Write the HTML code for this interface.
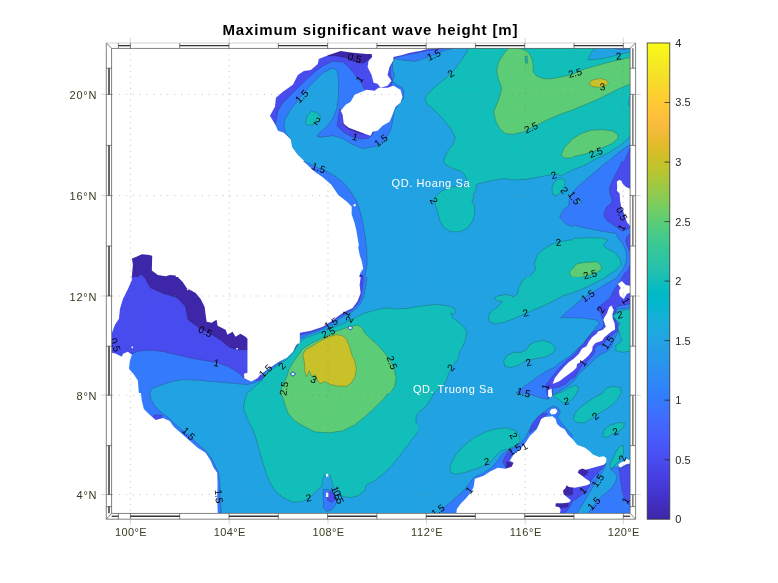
<!DOCTYPE html>
<html><head><meta charset="utf-8"><title>Maximum significant wave height</title>
<style>
html,body{margin:0;padding:0;background:#fff;}
body{width:778px;height:583px;overflow:hidden;position:relative;font-family:"Liberation Sans",sans-serif;}
svg{position:absolute;left:0;top:0;}
text{font-family:"Liberation Sans",sans-serif;}
.tk{font-size:11px;fill:#3a3a22;}
.cb{font-size:11px;fill:#262626;}
.cl{font-size:10px;fill:#000;}
.pl{font-size:11px;fill:#fff;}
</style></head><body>
<svg width="778" height="583" viewBox="0 0 778 583">
<rect width="778" height="583" fill="#fff"/>
<defs><clipPath id="mc"><rect x="112" y="48" width="518" height="465"/></clipPath><clipPath id="t0"><rect x="108" y="45" width="155" height="116"/></clipPath><clipPath id="t1"><rect x="263" y="45" width="155" height="116"/></clipPath><clipPath id="t2"><rect x="418" y="45" width="155" height="116"/></clipPath><clipPath id="t3"><rect x="573" y="45" width="155" height="116"/></clipPath><clipPath id="t4"><rect x="108" y="161" width="155" height="116"/></clipPath><clipPath id="t5"><rect x="263" y="161" width="155" height="116"/></clipPath><clipPath id="t6"><rect x="418" y="161" width="155" height="116"/></clipPath><clipPath id="t7"><rect x="573" y="161" width="155" height="116"/></clipPath><clipPath id="t8"><rect x="108" y="277" width="155" height="116"/></clipPath><clipPath id="t9"><rect x="263" y="277" width="155" height="116"/></clipPath><clipPath id="t10"><rect x="418" y="277" width="155" height="116"/></clipPath><clipPath id="t11"><rect x="573" y="277" width="155" height="116"/></clipPath><clipPath id="t12"><rect x="108" y="393" width="155" height="122"/></clipPath><clipPath id="t13"><rect x="263" y="393" width="155" height="122"/></clipPath><clipPath id="t14"><rect x="418" y="393" width="155" height="122"/></clipPath><clipPath id="t15"><rect x="573" y="393" width="155" height="122"/></clipPath></defs>
<g clip-path="url(#mc)">
<rect x="112" y="48" width="518" height="465" fill="#21a3e3"/>
<g clip-path="url(#t0)"><g transform="translate(108,45) scale(0.199229)">
<rect x="-5" y="-5" width="790" height="640" fill="#21a3e3"/>
<polygon points="-20,-20 800,-20 800,600 -20,600" fill="#fff"/>
</g></g>
<g clip-path="url(#t1)"><g transform="translate(263,45) scale(0.199229)">
<rect x="-5" y="-5" width="790" height="640" fill="#21a3e3"/>
<polygon points="139,473 113,441 106,409 110,376 135,330 185,265 240,200 300,140 350,115 372,128 380,180 378,260 370,320 350,370 320,410 278,445 272,460 290,463 350,455 400,470 450,500 500,520 560,510 610,480 640,430 650,390 660,330 680,300 705,270 708,240 700,215 665,195 650,185 660,150 650,120 650,85 660,69 705,76 763,82 800,72 800,-20 -20,-20 -20,473" fill="#347afd" stroke="#222" stroke-opacity="0.55" stroke-width="2.2" stroke-linejoin="round"/>
<polygon points="62,405 75,330 100,290 150,240 200,190 260,135 300,105 350,82 400,85 430,110 470,160 495,190 505,215 520,235 560,240 600,225 640,215 650,180 640,150 640,110 655,75 666,62 731,48 783,38 800,36 800,-20 -20,-20 -20,405" fill="#484cef" stroke="#222" stroke-opacity="0.55" stroke-width="2.2" stroke-linejoin="round"/>
<polygon points="385,320 378,360 372,405 400,435 440,458 490,472 530,468 550,450 560,430 500,400 420,350" fill="#484cef" stroke="#222" stroke-opacity="0.55" stroke-width="2.2" stroke-linejoin="round"/>
<polygon points="325,55 370,55 420,65 470,87 500,92 520,82 535,68 550,55 550,-20 325,-20" fill="#3e26a8" stroke="#222" stroke-opacity="0.55" stroke-width="2.2" stroke-linejoin="round"/>
<polygon points="400,395 430,422 470,438 510,448 500,420 420,370" fill="#3e26a8" stroke="#222" stroke-opacity="0.55" stroke-width="2.2" stroke-linejoin="round"/>
<polygon points="213,395 222,355 243,333 268,338 290,362 282,385 250,400 225,402" fill="#12beb9" stroke="#222" stroke-opacity="0.55" stroke-width="2.2" stroke-linejoin="round"/>
<polygon points="215,600 210,585 174,551 146,512 139,473 105,440 75,430 62,400 35,355 60,310 65,265 100,235 150,200 175,150 205,130 240,125 275,95 280,70 330,50 390,30 440,38 520,45 545,45 548,60 530,80 525,110 545,150 555,190 575,195 590,215 625,205 645,180 625,150 635,110 655,75 654,60 699,50 731,40 783,31 800,28 800,-20 -20,-20 -20,600" fill="#fff"/>
<polygon points="460,250 520,225 560,230 580,215 625,215 655,205 690,225 700,260 690,290 665,310 650,350 635,385 600,405 575,430 550,435 540,455 510,445 470,430 430,415 405,395 400,350 390,330 415,300 440,285" fill="#fff"/>
</g></g>
<g clip-path="url(#t2)"><g transform="translate(418,45) scale(0.199229)">
<rect x="-5" y="-5" width="790" height="640" fill="#21a3e3"/>
<polygon points="-20,84 18,72 50,60 95,44 134,27 173,18 180,-20 -20,-20" fill="#347afd" stroke="#222" stroke-opacity="0.55" stroke-width="2.2" stroke-linejoin="round"/>
<polygon points="-20,40 5,38 50,28 95,22 127,18 130,-20 -20,-20" fill="#484cef" stroke="#222" stroke-opacity="0.55" stroke-width="2.2" stroke-linejoin="round"/>
<polygon points="255,15 230,60 185,120 130,175 80,215 45,250 35,270 45,295 80,325 125,370 165,420 188,465 175,500 145,540 128,582 125,600 800,600 800,-20 255,-20" fill="#12beb9" stroke="#222" stroke-opacity="0.55" stroke-width="2.2" stroke-linejoin="round"/>
<polygon points="455,15 430,45 405,85 395,130 405,175 420,215 410,260 395,300 380,335 390,380 410,420 440,445 480,448 530,435 590,405 650,375 720,345 778,325 800,320 800,140 778,147 720,160 670,170 630,170 595,155 578,135 578,105 572,70 560,45 545,30 520,20 500,15 500,-20 455,-20" fill="#5ccc76" stroke="#222" stroke-opacity="0.55" stroke-width="2.2" stroke-linejoin="round"/>
<polygon points="719,551 735,515 774,473 800,458 800,568 774,567 735,567" fill="#5ccc76" stroke="#222" stroke-opacity="0.55" stroke-width="2.2" stroke-linejoin="round"/>
<polygon points="537,58 548,55 550,90 540,92" fill="#12beb9" stroke="#222" stroke-opacity="0.55" stroke-width="2.2" stroke-linejoin="round"/>
<polygon points="-20,-20 100,-20 100,17 88,18 43,21 5,31 -20,34" fill="#fff"/>
</g></g>
<g clip-path="url(#t3)"><g transform="translate(573,45) scale(0.199229)">
<rect x="-5" y="-5" width="790" height="640" fill="#21a3e3"/>
<polygon points="-20,-20 800,-20 800,600 -20,600" fill="#12beb9" stroke="#222" stroke-opacity="0.55" stroke-width="2.2" stroke-linejoin="round"/>
<polygon points="-20,150 0,145 60,120 130,100 200,82 260,68 300,60 300,192 240,215 180,245 120,275 60,300 0,325 -20,330" fill="#5ccc76" stroke="#222" stroke-opacity="0.55" stroke-width="2.2" stroke-linejoin="round"/>
<polygon points="0,470 40,445 90,428 150,425 200,432 225,450 225,470 195,495 150,515 100,535 50,550 0,560 -20,565 -20,480" fill="#5ccc76" stroke="#222" stroke-opacity="0.55" stroke-width="2.2" stroke-linejoin="round"/>
<polygon points="80,190 100,175 135,168 165,175 178,190 165,205 130,212 95,208" fill="#c8c129" stroke="#222" stroke-opacity="0.55" stroke-width="2.2" stroke-linejoin="round"/>
<polygon points="110,15 90,40 75,75 120,72 180,62 240,45 300,33 300,-20 110,-20" fill="#21a3e3" stroke="#222" stroke-opacity="0.55" stroke-width="2.2" stroke-linejoin="round"/>
<polygon points="300,255 290,255 280,275 278,295 285,310 300,315" fill="#21a3e3" stroke="#222" stroke-opacity="0.55" stroke-width="2.2" stroke-linejoin="round"/>
<polygon points="300,445 287,454 274,473 235,505 183,538 132,564 95,582 70,600 300,600" fill="#21a3e3" stroke="#222" stroke-opacity="0.55" stroke-width="2.2" stroke-linejoin="round"/>
<polygon points="200,-20 205,17 245,24 300,18 300,-20" fill="#347afd" stroke="#222" stroke-opacity="0.55" stroke-width="2.2" stroke-linejoin="round"/>
<polygon points="300,490 287,499 235,535 183,578 165,600 300,600" fill="#347afd" stroke="#222" stroke-opacity="0.55" stroke-width="2.2" stroke-linejoin="round"/>
<polygon points="300,505 287,515 272,550 258,582 252,600 300,600" fill="#484cef" stroke="#222" stroke-opacity="0.55" stroke-width="2.2" stroke-linejoin="round"/>
</g></g>
<g clip-path="url(#t4)"><g transform="translate(108,161) scale(0.199229)">
<rect x="-5" y="-5" width="790" height="640" fill="#21a3e3"/>
<polygon points="-20,-20 800,-20 800,600 -20,600" fill="#3e26a8" stroke="#222" stroke-opacity="0.55" stroke-width="2.2" stroke-linejoin="round"/>
<polygon points="110,610 122,600 140,585 167,569 187,589 197,610" fill="#484cef" stroke="#222" stroke-opacity="0.55" stroke-width="2.2" stroke-linejoin="round"/>
<polygon points="-20,-20 800,-20 800,600 340,600 340,575 310,572 290,578 250,572 220,550 222,475 200,470 170,468 140,482 120,490 125,520 118,600 -20,600" fill="#fff"/>
</g></g>
<g clip-path="url(#t5)"><g transform="translate(263,161) scale(0.199229)">
<rect x="-5" y="-5" width="790" height="640" fill="#21a3e3"/>
<polygon points="150,-20 205,0 220,7 271,33 323,53 365,78 405,110 438,150 471,203 490,260 503,319 513,380 520,435 523,513 512,582 508,610 -20,610 -20,-20" fill="#347afd" stroke="#222" stroke-opacity="0.55" stroke-width="2.2" stroke-linejoin="round"/>
<polygon points="478,600 480,568 500,575 508,600" fill="#3e26a8" stroke="#222" stroke-opacity="0.55" stroke-width="2.2" stroke-linejoin="round"/>
<polygon points="180,-20 200,0 213,10 258,53 300,82 342,118 378,171 420,203 445,228 445,268 458,305 468,345 474,380 481,422 478,435 486,474 495,500 503,539 490,560 484,577 486,610 -20,610 -20,-20" fill="#fff"/>
<polygon points="452,222 460,215 468,222 460,230" fill="#fff"/>
</g></g>
<g clip-path="url(#t6)"><g transform="translate(418,161) scale(0.199229)">
<rect x="-5" y="-5" width="790" height="640" fill="#21a3e3"/>
<polygon points="800,150 778,160 767,168 760,185 756,225 728,247 711,281 739,314 762,326 800,335" fill="#347afd" stroke="#222" stroke-opacity="0.55" stroke-width="2.2" stroke-linejoin="round"/>
<polygon points="128,-20 128,0 140,20 180,40 215,50 235,70 245,95 250,125 215,128 170,130 120,150 80,185 85,215 100,260 110,300 130,335 165,355 210,355 250,335 275,300 285,260 285,225 270,205 280,185 278,165 292,148 290,125 300,115 360,100 430,88 480,95 540,92 600,82 660,70 700,68 720,75 740,62 778,45 800,40 800,-20" fill="#12beb9" stroke="#222" stroke-opacity="0.55" stroke-width="2.2" stroke-linejoin="round"/>
<polygon points="672,135 680,110 700,92 725,88 740,100 735,130 715,160 690,175 675,165" fill="#12beb9" stroke="#222" stroke-opacity="0.55" stroke-width="2.2" stroke-linejoin="round"/>
<polygon points="555,600 560,582 590,545 585,510 600,470 640,435 690,410 740,400 778,395 800,393 800,600" fill="#12beb9" stroke="#222" stroke-opacity="0.55" stroke-width="2.2" stroke-linejoin="round"/>
<polygon points="759,557 779,537 800,520 800,590 770,582" fill="#5ccc76" stroke="#222" stroke-opacity="0.55" stroke-width="2.2" stroke-linejoin="round"/>
</g></g>
<g clip-path="url(#t7)"><g transform="translate(573,161) scale(0.199229)">
<rect x="-5" y="-5" width="790" height="640" fill="#21a3e3"/>
<polygon points="175,-20 175,0 135,34 96,67 57,101 17,135 -11,168 -30,200 -22,225 -50,247 -67,281 -39,314 -16,315 40,332 96,343 152,354 214,363 225,385 248,413 264,447 270,481 264,514 250,545 230,570 222,582 215,600 300,600 300,-20" fill="#347afd" stroke="#222" stroke-opacity="0.55" stroke-width="2.2" stroke-linejoin="round"/>
<polygon points="248,-20 248,0 231,34 214,67 197,101 183,135 186,168 197,196 191,213 169,230 158,253 155,275 169,297 197,318 220,332 248,352 264,346 287,335 300,330 300,-20" fill="#484cef" stroke="#222" stroke-opacity="0.55" stroke-width="2.2" stroke-linejoin="round"/>
<polygon points="300,360 287,363 270,380 264,402 273,425 281,447 287,458 300,460" fill="#484cef" stroke="#222" stroke-opacity="0.55" stroke-width="2.2" stroke-linejoin="round"/>
<polygon points="300,515 287,520 276,548 259,565 245,585 240,600 300,600" fill="#484cef" stroke="#222" stroke-opacity="0.55" stroke-width="2.2" stroke-linejoin="round"/>
<polygon points="100,-20 96,0 57,22 12,39 -33,53 -33,-20" fill="#12beb9" stroke="#222" stroke-opacity="0.55" stroke-width="2.2" stroke-linejoin="round"/>
<polygon points="-100,411 -44,397 12,388 79,385 147,387 175,397 152,422 169,439 208,458 236,492 242,520 214,548 180,571 147,593 113,616 96,627 -100,627" fill="#12beb9" stroke="#222" stroke-opacity="0.55" stroke-width="2.2" stroke-linejoin="round"/>
<polygon points="-19,557 1,537 17,517 57,509 124,506 138,523 144,543 124,557 96,568 62,579 23,585 -8,582" fill="#5ccc76" stroke="#222" stroke-opacity="0.55" stroke-width="2.2" stroke-linejoin="round"/>
<polygon points="15,200 35,192 45,208 25,215" fill="#21a3e3" stroke="#222" stroke-opacity="0.55" stroke-width="2.2" stroke-linejoin="round"/>
<polygon points="220,104 231,95 242,98 248,112 264,129 287,140 300,140 300,326 287,326 270,306 259,269 242,230 236,196 234,163 220,149 222,129" fill="#fff"/>
</g></g>
<g clip-path="url(#t8)"><g transform="translate(108,277) scale(0.199229)">
<rect x="-5" y="-5" width="790" height="640" fill="#21a3e3"/>
<polygon points="-20,-20 800,-20 800,600 -20,600" fill="#347afd" stroke="#222" stroke-opacity="0.55" stroke-width="2.2" stroke-linejoin="round"/>
<polygon points="-20,-20 800,-20 800,520 690,515 670,495 640,470 600,448 550,430 490,420 420,408 350,392 280,375 220,368 160,370 120,385 100,388 -20,400" fill="#484cef" stroke="#222" stroke-opacity="0.55" stroke-width="2.2" stroke-linejoin="round"/>
<polygon points="160,-20 167,-14 187,7 201,35 215,55 277,83 345,103 387,145 401,214 456,255 511,283 566,317 607,351 649,365 697,365 800,370 800,-20" fill="#3e26a8" stroke="#222" stroke-opacity="0.55" stroke-width="2.2" stroke-linejoin="round"/>
<polygon points="205,600 210,582 220,560 260,545 320,525 380,515 450,518 520,525 580,530 640,535 700,540 740,530 778,510 800,500 800,600" fill="#21a3e3" stroke="#222" stroke-opacity="0.55" stroke-width="2.2" stroke-linejoin="round"/>
<polygon points="695,600 700,582 730,555 760,530 778,515 800,505 800,600" fill="#12beb9" stroke="#222" stroke-opacity="0.55" stroke-width="2.2" stroke-linejoin="round"/>
<polygon points="-20,-20 118,-20 118,0 120,15 100,60 75,110 60,160 55,210 35,240 20,280 20,380 40,385 70,400 75,385 100,375 120,390 110,420 105,460 130,490 150,520 155,582 155,600 -20,600" fill="#fff"/>
<polygon points="350,-20 350,0 375,25 395,55 440,80 465,110 485,150 490,190 495,225 520,230 545,215 550,245 590,265 600,290 625,275 640,300 665,285 690,300 700,310 700,480 682,485 685,510 720,525 750,508 765,490 800,485 800,-20" fill="#fff"/>
<polygon points="118,349 126,349 126,357 118,357" fill="#fff"/>
<polygon points="396,58 404,58 404,66 396,66" fill="#fff"/>
<polygon points="644,356 652,356 652,364 644,364" fill="#fff"/>
</g></g>
<g clip-path="url(#t9)"><g transform="translate(263,277) scale(0.199229)">
<rect x="-5" y="-5" width="790" height="640" fill="#21a3e3"/>
<polygon points="522,-20 522,0 515,50 505,100 485,140 455,170 420,190 385,210 350,235 310,258 260,278 215,295 185,312 160,360 120,400 70,440 30,465 0,488 -20,500 -20,-20" fill="#347afd" stroke="#222" stroke-opacity="0.55" stroke-width="2.2" stroke-linejoin="round"/>
<polygon points="505,-20 505,0 498,60 492,100 478,130 450,162 415,182 380,203 340,232 300,256 240,277 185,292 170,345 120,400 70,432 30,456 0,478 -20,490 -20,-20" fill="#484cef" stroke="#222" stroke-opacity="0.55" stroke-width="2.2" stroke-linejoin="round"/>
<polygon points="800,145 778,148 720,158 660,160 620,155 570,165 520,178 480,195 440,215 400,235 350,255 300,275 250,292 200,312 175,340 155,375 125,410 90,435 50,460 10,490 -20,510 -20,600 800,600" fill="#12beb9" stroke="#222" stroke-opacity="0.55" stroke-width="2.2" stroke-linejoin="round"/>
<polygon points="80,600 85,582 100,540 120,500 130,465 150,430 175,395 200,360 240,335 290,310 340,285 390,265 430,250 470,242 495,250 510,280 540,310 575,340 610,380 640,420 660,465 668,510 660,550 640,582 635,600" fill="#5ccc76" stroke="#222" stroke-opacity="0.55" stroke-width="2.2" stroke-linejoin="round"/>
<polygon points="200,390 215,365 250,345 290,320 330,300 370,290 400,295 420,315 435,350 445,390 460,420 468,460 462,500 445,530 420,548 380,548 340,540 310,525 285,535 270,510 262,490 245,500 232,470 218,500 210,470 208,430" fill="#c8c129" stroke="#222" stroke-opacity="0.55" stroke-width="2.2" stroke-linejoin="round"/>
<polygon points="425,255 438,243 452,255 438,268" fill="#347afd" stroke="#222" stroke-opacity="0.55" stroke-width="2.2" stroke-linejoin="round"/>
<polygon points="135,487 150,474 165,487 150,500" fill="#347afd" stroke="#222" stroke-opacity="0.55" stroke-width="2.2" stroke-linejoin="round"/>
<polygon points="490,-20 490,0 485,40 490,80 475,120 450,155 410,175 380,195 340,225 300,250 240,270 185,280 185,320 165,345 150,375 120,405 80,425 50,445 20,465 0,480 -20,490 -20,-20" fill="#fff"/>
<polygon points="432,250 444,250 444,260 432,260" fill="#fff"/>
<polygon points="144,482 156,482 156,492 144,492" fill="#fff"/>
<polygon points="172,322 184,322 184,334 172,334" fill="#fff"/>
</g></g>
<g clip-path="url(#t10)"><g transform="translate(418,277) scale(0.199229)">
<rect x="-5" y="-5" width="790" height="640" fill="#21a3e3"/>
<polygon points="999.9,-35.1 999.9,0.0 987.3,10.0 947.7,32.6 907.5,57.2 867.8,82.3 827.7,107.4 792.6,135.0 757.9,164.6 727.8,192.2 714.8,204.8 727.8,203.8 817.7,205.8 892.4,214.8 912.5,234.9 896.0,245.9 885.4,263.5 862.8,291.6 840.2,319.7 823.7,341.8 790.0,369.9 761.9,398.0 733.8,415.1 711.2,429.2 682.6,454.3 647.5,470.3 608.3,495.9 569.2,524.0 529.5,552.1 493.4,580.2 529.5,585.8 569.2,591.3 602.8,602.3 630.9,610.9 653.0,613.9 667.1,602.3 675.6,591.3 698.2,580.2 726.3,563.2 754.4,546.1 776.5,527.0 793.1,507.0 806.6,486.9 834.7,461.8 862.8,437.2 890.9,409.1 919.0,387.0 947.2,375.4 969.2,353.4 980.8,325.3 991.8,297.1 1008.9,269.0 1014.4,240.9 998.9,210.8 993.8,185.7 998.9,160.6 1028.0,160.1 1078.2,150.1 1078.2,-35.1" fill="#347afd" stroke="#222" stroke-opacity="0.55" stroke-width="2.2" stroke-linejoin="round"/>
<polygon points="1027.5,-35.1 1027.5,0.0 1007.4,30.1 987.3,59.7 962.7,104.9 927.6,135.0 902.5,150.1 900.0,164.6 912.5,174.7 927.6,209.8 932.6,234.9 925.1,259.5 897.5,269.5 883.4,273.6 863.3,291.1 845.8,313.7 833.2,336.3 813.1,348.8 795.6,376.5 773.0,399.0 747.9,416.6 722.8,441.7 700.2,466.8 677.6,494.4 664.6,512.5 642.0,540.6 647.5,585.8 653.0,607.8 667.1,599.8 675.6,580.2 675.6,557.7 709.2,552.1 742.9,535.1 765.5,512.5 788.0,501.4 808.1,466.8 828.2,439.2 850.8,421.6 868.3,404.1 885.9,381.5 888.4,358.9 901.0,343.8 933.6,333.8 946.1,316.2 963.7,301.2 981.3,286.1 1001.4,271.0 998.9,235.9 988.8,210.8 986.3,190.7 993.8,165.6 993.8,150.6 1007.4,145.1 1037.5,140.0 1062.6,135.0 1078.2,133.0 1078.2,-35.1" fill="#484cef" stroke="#222" stroke-opacity="0.55" stroke-width="2.2" stroke-linejoin="round"/>
<polygon points="-20,148 0,148 50,142 100,138 150,145 180,155 190,175 175,188 165,180 170,200 200,225 235,255 245,280 238,316 224,350 207,378 204,406 184,434 168,457 154,484 142,519 128,541 100,563 78,586 70,600 -20,600" fill="#12beb9" stroke="#222" stroke-opacity="0.55" stroke-width="2.2" stroke-linejoin="round"/>
<polygon points="545,-20 545,0 520,25 505,55 500,85 480,100 462,92 445,88 400,95 385,105 395,120 425,122 400,150 365,175 352,200 360,225 385,235 430,228 480,210 530,188 580,165 630,145 680,120 728,94 768,82 800,72 800,-20" fill="#12beb9" stroke="#222" stroke-opacity="0.55" stroke-width="2.2" stroke-linejoin="round"/>
<polygon points="430,420 445,395 480,378 520,378 545,365 560,340 590,325 630,318 665,330 690,355 680,380 640,400 590,410 540,420 500,445 460,455 435,445" fill="#12beb9" stroke="#222" stroke-opacity="0.55" stroke-width="2.2" stroke-linejoin="round"/>
<polygon points="674.6,592.8 702.7,584.3 730.3,573.2 758.4,556.1 786.5,544.1 803.6,548.1 803.6,567.7 792.1,589.8 775.5,612.4 752.9,629.4 730.3,631.9 713.8,620.9 696.7,606.8" fill="#12beb9" stroke="#222" stroke-opacity="0.55" stroke-width="2.2" stroke-linejoin="round"/>
<polygon points="675.6,536.1 687.1,507.0 710.2,476.8 732.8,451.7 757.9,426.6 783.0,409.1 806.6,387.0 823.7,358.9 845.8,347.3 857.3,325.3 873.9,302.7 897.5,283.6 903.5,273.6 927.6,264.5 942.6,250.0 937.6,234.9 930.1,214.8 937.6,199.8 947.7,184.7 952.7,169.7 960.2,150.1 972.8,142.5 977.8,159.6 982.3,164.6 975.3,189.7 977.8,209.8 987.3,234.9 989.3,263.5 969.2,274.6 952.7,288.6 935.6,302.7 924.6,319.7 890.9,330.8 876.9,347.3 873.9,369.9 857.3,392.5 840.2,409.1 818.2,426.1 798.1,437.2 795.6,454.3 778.5,471.3 756.4,487.9 733.8,504.9 711.2,521.5 688.7,532.6" fill="#fff"/>
<polygon points="653.0,568.7 670.1,560.2 673.1,596.8 664.6,605.3 653.0,599.8" fill="#fff"/>
</g></g>
<g clip-path="url(#t11)"><g transform="translate(573,277) scale(0.199229)">
<rect x="-5" y="-5" width="790" height="640" fill="#21a3e3"/>
<polygon points="221.9,-35.1 221.9,0.0 209.3,10.0 169.7,32.6 129.5,57.2 89.8,82.3 49.7,107.4 14.6,135.0 -20.1,164.6 -50.2,192.2 -63.2,204.8 -50.2,203.8 39.7,205.8 114.4,214.8 134.5,234.9 118.0,245.9 107.4,263.5 84.8,291.6 62.2,319.7 45.7,341.8 12.0,369.9 -16.1,398.0 -44.2,415.1 -66.8,429.2 -95.4,454.3 -130.5,470.3 -169.7,495.9 -208.8,524.0 -248.5,552.1 -284.6,580.2 -248.5,585.8 -208.8,591.3 -175.2,602.3 -147.1,610.9 -125.0,613.9 -110.9,602.3 -102.4,591.3 -79.8,580.2 -51.7,563.2 -23.6,546.1 -1.5,527.0 15.1,507.0 28.6,486.9 56.7,461.8 84.8,437.2 112.9,409.1 141.0,387.0 169.2,375.4 191.2,353.4 202.8,325.3 213.8,297.1 230.9,269.0 236.4,240.9 220.9,210.8 215.8,185.7 220.9,160.6 250.0,160.1 300.2,150.1 300.2,-35.1" fill="#347afd" stroke="#222" stroke-opacity="0.55" stroke-width="2.2" stroke-linejoin="round"/>
<polygon points="249.5,-35.1 249.5,0.0 229.4,30.1 209.3,59.7 184.7,104.9 149.6,135.0 124.5,150.1 122.0,164.6 134.5,174.7 149.6,209.8 154.6,234.9 147.1,259.5 119.5,269.5 105.4,273.6 85.3,291.1 67.8,313.7 55.2,336.3 35.1,348.8 17.6,376.5 -5.0,399.0 -30.1,416.6 -55.2,441.7 -77.8,466.8 -100.4,494.4 -113.4,512.5 -136.0,540.6 -130.5,585.8 -125.0,607.8 -110.9,599.8 -102.4,580.2 -102.4,557.7 -68.8,552.1 -35.1,535.1 -12.5,512.5 10.0,501.4 30.1,466.8 50.2,439.2 72.8,421.6 90.3,404.1 107.9,381.5 110.4,358.9 123.0,343.8 155.6,333.8 168.1,316.2 185.7,301.2 203.3,286.1 223.4,271.0 220.9,235.9 210.8,210.8 208.3,190.7 215.8,165.6 215.8,150.6 229.4,145.1 259.5,140.0 284.6,135.0 300.2,133.0 300.2,-35.1" fill="#484cef" stroke="#222" stroke-opacity="0.55" stroke-width="2.2" stroke-linejoin="round"/>
<polygon points="-50,92 -10,82 30,67 70,50 110,30 150,10 170,0 170,-20 -50,-20" fill="#12beb9" stroke="#222" stroke-opacity="0.55" stroke-width="2.2" stroke-linejoin="round"/>
<polygon points="200,195 225,175 260,165 300,160 300,370 250,378 215,370 215,345 245,320 235,290 225,255 235,235 215,215" fill="#12beb9" stroke="#222" stroke-opacity="0.55" stroke-width="2.2" stroke-linejoin="round"/>
<polygon points="150,600 150,582 165,560 200,548 235,555 245,582 245,600" fill="#12beb9" stroke="#222" stroke-opacity="0.55" stroke-width="2.2" stroke-linejoin="round"/>
<polygon points="-103.4,592.8 -75.3,584.3 -47.7,573.2 -19.6,556.1 8.5,544.1 25.6,548.1 25.6,567.7 14.1,589.8 -2.5,612.4 -25.1,629.4 -47.7,631.9 -64.2,620.9 -81.3,606.8" fill="#12beb9" stroke="#222" stroke-opacity="0.55" stroke-width="2.2" stroke-linejoin="round"/>
<polygon points="225,35 245,20 265,40 290,45 300,45 300,75 270,85 255,110 235,95 230,70 240,55" fill="#fff"/>
<polygon points="-102.4,536.1 -90.9,507.0 -67.8,476.8 -45.2,451.7 -20.1,426.6 5.0,409.1 28.6,387.0 45.7,358.9 67.8,347.3 79.3,325.3 95.9,302.7 119.5,283.6 125.5,273.6 149.6,264.5 164.6,250.0 159.6,234.9 152.1,214.8 159.6,199.8 169.7,184.7 174.7,169.7 182.2,150.1 194.8,142.5 199.8,159.6 204.3,164.6 197.3,189.7 199.8,209.8 209.3,234.9 211.3,263.5 191.2,274.6 174.7,288.6 157.6,302.7 146.6,319.7 112.9,330.8 98.9,347.3 95.9,369.9 79.3,392.5 62.2,409.1 40.2,426.1 20.1,437.2 17.6,454.3 0.5,471.3 -21.6,487.9 -44.2,504.9 -66.8,521.5 -89.3,532.6" fill="#fff"/>
<polygon points="-125.0,568.7 -107.9,560.2 -104.9,596.8 -113.4,605.3 -125.0,599.8" fill="#fff"/>
</g></g>
<g clip-path="url(#t12)"><g transform="translate(108,393) scale(0.199229)">
<rect x="-5" y="-5" width="790" height="640" fill="#21a3e3"/>
<polygon points="210,-20 210,0 215,30 235,65 265,95 300,120 330,150 370,185 410,215 450,255 490,290 520,330 540,370 556,400 562,460 563,520 568,582 572,625 -20,625 -20,-20" fill="#347afd" stroke="#222" stroke-opacity="0.55" stroke-width="2.2" stroke-linejoin="round"/>
<polygon points="225,125 245,140 270,130 270,110 230,110" fill="#484cef" stroke="#222" stroke-opacity="0.55" stroke-width="2.2" stroke-linejoin="round"/>
<polygon points="700,-20 700,0 685,40 680,80 700,130 730,190 750,250 765,310 778,350 800,400 800,-20" fill="#12beb9" stroke="#222" stroke-opacity="0.55" stroke-width="2.2" stroke-linejoin="round"/>
<polygon points="165,-20 165,0 170,40 180,80 210,110 240,135 275,125 310,140 330,170 370,205 410,240 450,275 490,300 515,340 530,375 548,400 550,460 548,520 550,582 552,625 -20,625 -20,-20" fill="#fff"/>
</g></g>
<g clip-path="url(#t13)"><g transform="translate(263,393) scale(0.199229)">
<rect x="-5" y="-5" width="790" height="640" fill="#21a3e3"/>
<polygon points="301,484 303,577 319,595 344,587 365,561 373,535 355,504 334,484" fill="#347afd" stroke="#222" stroke-opacity="0.55" stroke-width="2.2" stroke-linejoin="round"/>
<polygon points="320,500 345,495 360,510 362,535 345,550 325,540" fill="#484cef" stroke="#222" stroke-opacity="0.55" stroke-width="2.2" stroke-linejoin="round"/>
<polygon points="-20,340 0,350 15,400 35,450 60,490 100,525 150,548 200,545 240,520 270,490 295,470 300,430 310,410 335,410 345,440 350,470 375,490 400,520 440,525 480,515 510,490 520,460 560,440 610,400 650,360 690,310 720,270 750,230 778,195 800,170 800,-20 -20,-20" fill="#12beb9" stroke="#222" stroke-opacity="0.55" stroke-width="2.2" stroke-linejoin="round"/>
<polygon points="85,-20 90,0 105,40 125,100 160,140 210,170 260,195 330,200 400,190 460,160 510,120 560,75 600,35 630,0 635,-20" fill="#5ccc76" stroke="#222" stroke-opacity="0.55" stroke-width="2.2" stroke-linejoin="round"/>
<polygon points="800,95 778,100 768,120 768,145 778,160 800,165" fill="#21a3e3" stroke="#222" stroke-opacity="0.55" stroke-width="2.2" stroke-linejoin="round"/>
<polygon points="316,406 328,406 328,420 316,420" fill="#fff"/>
<polygon points="316,500 328,500 328,522 316,522" fill="#fff"/>
</g></g>
<g clip-path="url(#t14)"><g transform="translate(418,393) scale(0.199229)">
<rect x="-5" y="-5" width="790" height="640" fill="#21a3e3"/>
<polygon points="115,625 120,582 150,560 190,525 230,490 260,450 280,425 330,400 370,375 395,345 420,310 450,290 490,270 520,245 545,215 560,180 590,140 620,105 650,80 680,65 705,75 715,100 700,120 720,150 750,185 778,215 800,225 800,625" fill="#347afd" stroke="#222" stroke-opacity="0.55" stroke-width="2.2" stroke-linejoin="round"/>
<polygon points="999.9,-617.4 999.9,-582.2 987.3,-572.2 947.7,-549.6 907.5,-525.0 867.8,-499.9 827.7,-474.8 792.6,-447.2 757.9,-417.6 727.8,-390.0 714.8,-377.5 727.8,-378.5 817.7,-376.5 892.4,-367.4 912.5,-347.3 896.0,-336.3 885.4,-318.7 862.8,-290.6 840.2,-262.5 823.7,-240.4 790.0,-212.3 761.9,-184.2 733.8,-167.1 711.2,-153.1 682.6,-128.0 647.5,-111.9 608.3,-86.3 569.2,-58.2 529.5,-30.1 493.4,-2.0 529.5,3.5 569.2,9.0 602.8,20.1 630.9,28.6 653.0,31.6 667.1,20.1 675.6,9.0 698.2,-2.0 726.3,-19.1 754.4,-36.1 776.5,-55.2 793.1,-75.3 806.6,-95.4 834.7,-120.5 862.8,-145.1 890.9,-173.2 919.0,-195.3 947.2,-206.8 969.2,-228.9 980.8,-257.0 991.8,-285.1 1008.9,-313.2 1014.4,-341.3 998.9,-371.4 993.8,-396.5 998.9,-421.6 1028.0,-422.1 1078.2,-432.2 1078.2,-617.4" fill="#347afd" stroke="#222" stroke-opacity="0.55" stroke-width="2.2" stroke-linejoin="round"/>
<polygon points="425,345 445,305 470,285 462,330 478,345 485,365 470,385 445,385" fill="#484cef" stroke="#222" stroke-opacity="0.55" stroke-width="2.2" stroke-linejoin="round"/>
<polygon points="560,200 570,160 600,120 630,100 650,105 610,140 590,180" fill="#484cef" stroke="#222" stroke-opacity="0.55" stroke-width="2.2" stroke-linejoin="round"/>
<polygon points="730,455 800,455 800,528 776,544 767,562 752,586 728,612 720,625 680,625 680,545 740,540" fill="#484cef" stroke="#222" stroke-opacity="0.55" stroke-width="2.2" stroke-linejoin="round"/>
<polygon points="1027.5,-617.4 1027.5,-582.2 1007.4,-552.1 987.3,-522.5 962.7,-477.3 927.6,-447.2 902.5,-432.2 900.0,-417.6 912.5,-407.6 927.6,-372.4 932.6,-347.3 925.1,-322.7 897.5,-312.7 883.4,-308.7 863.3,-291.1 845.8,-268.5 833.2,-245.9 813.1,-233.4 795.6,-205.8 773.0,-183.2 747.9,-165.6 722.8,-140.5 700.2,-115.4 677.6,-87.8 664.6,-69.8 642.0,-41.7 647.5,3.5 653.0,25.6 667.1,17.6 675.6,-2.0 675.6,-24.6 709.2,-30.1 742.9,-47.2 765.5,-69.8 788.0,-80.8 808.1,-115.4 828.2,-143.1 850.8,-160.6 868.3,-178.2 885.9,-200.8 888.4,-223.4 901.0,-238.4 933.6,-248.5 946.1,-266.0 963.7,-281.1 981.3,-296.1 1001.4,-311.2 998.9,-346.3 988.8,-371.4 986.3,-391.5 993.8,-416.6 993.8,-431.7 1007.4,-437.2 1037.5,-442.2 1062.6,-447.2 1078.2,-449.2 1078.2,-617.4" fill="#484cef" stroke="#222" stroke-opacity="0.55" stroke-width="2.2" stroke-linejoin="round"/>
<polygon points="445,345 480,355 478,375 460,385 445,375" fill="#3e26a8" stroke="#222" stroke-opacity="0.55" stroke-width="2.2" stroke-linejoin="round"/>
<polygon points="720,460 794,470 791,502 758,514 725,510" fill="#3e26a8" stroke="#222" stroke-opacity="0.55" stroke-width="2.2" stroke-linejoin="round"/>
<polygon points="685,550 758,549 752,571 710,577 685,570" fill="#3e26a8" stroke="#222" stroke-opacity="0.55" stroke-width="2.2" stroke-linejoin="round"/>
<polygon points="-20,105 0,98 25,80 44,60 50,54 66,26 78,4 80,-20 -20,-20" fill="#12beb9" stroke="#222" stroke-opacity="0.55" stroke-width="2.2" stroke-linejoin="round"/>
<polygon points="160,385 165,355 190,310 230,265 280,225 340,195 400,178 450,175 490,190 510,215 512,245 490,265 455,280 420,290 395,310 370,340 330,365 280,385 230,400 190,408 165,400" fill="#12beb9" stroke="#222" stroke-opacity="0.55" stroke-width="2.2" stroke-linejoin="round"/>
<polygon points="674.6,10.5 702.7,2.0 730.3,-9.0 758.4,-26.1 786.5,-38.1 803.6,-34.1 803.6,-14.6 792.1,7.5 775.5,30.1 752.9,47.2 730.3,49.7 713.8,38.6 696.7,24.6" fill="#12beb9" stroke="#222" stroke-opacity="0.55" stroke-width="2.2" stroke-linejoin="round"/>
<polygon points="190,625 195,582 215,555 240,530 265,500 280,470 285,430 330,415 360,395 400,375 440,380 470,370 480,350 460,340 480,310 515,280 540,250 562,215 579,199 596,182 607,159 618,131 635,120 675,117 691,131 697,154 714,171 736,182 753,210 776,232 800,262 800,475 788,475 758,472 746,463 740,478 728,490 731,508 752,526 767,538 758,550 728,553 692,553 689,568 710,574 716,589 704,625" fill="#fff"/>
<polygon points="660,95 670,80 690,78 700,90 690,105 670,108" fill="#fff"/>
<polygon points="675.6,-46.2 687.1,-75.3 710.2,-105.4 732.8,-130.5 757.9,-155.6 783.0,-173.2 806.6,-195.3 823.7,-223.4 845.8,-234.9 857.3,-257.0 873.9,-279.6 897.5,-298.7 903.5,-308.7 927.6,-317.7 942.6,-332.3 937.6,-347.3 930.1,-367.4 937.6,-382.5 947.7,-397.5 952.7,-412.6 960.2,-432.2 972.8,-439.7 977.8,-422.6 982.3,-417.6 975.3,-392.5 977.8,-372.4 987.3,-347.3 989.3,-318.7 969.2,-307.7 952.7,-293.6 935.6,-279.6 924.6,-262.5 890.9,-251.5 876.9,-234.9 873.9,-212.3 857.3,-189.7 840.2,-173.2 818.2,-156.1 798.1,-145.1 795.6,-128.0 778.5,-110.9 756.4,-94.4 733.8,-77.3 711.2,-60.7 688.7,-49.7" fill="#fff"/>
<polygon points="653.0,-13.6 670.1,-22.1 673.1,14.6 664.6,23.1 653.0,17.6" fill="#fff"/>
</g></g>
<g clip-path="url(#t15)"><g transform="translate(573,393) scale(0.199229)">
<rect x="-5" y="-5" width="790" height="640" fill="#21a3e3"/>
<polygon points="-20,470 0,480 85,460 90,440 130,370 167,345 167,351 155,382 137,412 118,442 100,472 82,502 64,532 46,562 28,589 16,612 10,625 -20,625" fill="#347afd" stroke="#222" stroke-opacity="0.55" stroke-width="2.2" stroke-linejoin="round"/>
<polygon points="188,382 209,400 221,418 215,442 197,472 173,496 149,514 125,538 100,568 82,592 70,612 65,625 300,625 300,340 270,345 250,360 230,375 210,370" fill="#347afd" stroke="#222" stroke-opacity="0.55" stroke-width="2.2" stroke-linejoin="round"/>
<polygon points="221.9,-617.4 221.9,-582.2 209.3,-572.2 169.7,-549.6 129.5,-525.0 89.8,-499.9 49.7,-474.8 14.6,-447.2 -20.1,-417.6 -50.2,-390.0 -63.2,-377.5 -50.2,-378.5 39.7,-376.5 114.4,-367.4 134.5,-347.3 118.0,-336.3 107.4,-318.7 84.8,-290.6 62.2,-262.5 45.7,-240.4 12.0,-212.3 -16.1,-184.2 -44.2,-167.1 -66.8,-153.1 -95.4,-128.0 -130.5,-111.9 -169.7,-86.3 -208.8,-58.2 -248.5,-30.1 -284.6,-2.0 -248.5,3.5 -208.8,9.0 -175.2,20.1 -147.1,28.6 -125.0,31.6 -110.9,20.1 -102.4,9.0 -79.8,-2.0 -51.7,-19.1 -23.6,-36.1 -1.5,-55.2 15.1,-75.3 28.6,-95.4 56.7,-120.5 84.8,-145.1 112.9,-173.2 141.0,-195.3 169.2,-206.8 191.2,-228.9 202.8,-257.0 213.8,-285.1 230.9,-313.2 236.4,-341.3 220.9,-371.4 215.8,-396.5 220.9,-421.6 250.0,-422.1 300.2,-432.2 300.2,-617.4" fill="#347afd" stroke="#222" stroke-opacity="0.55" stroke-width="2.2" stroke-linejoin="round"/>
<polygon points="-26,600 -11,562 -2,544 16,532 40,514 64,496 82,472 88,454 88,442 100,424 118,406 143,382 161,360 158,348 120,345 -26,345" fill="#484cef" stroke="#222" stroke-opacity="0.55" stroke-width="2.2" stroke-linejoin="round"/>
<polygon points="230,375 236,418 242,460 248,502 260,532 275,556 287,565 300,568 300,355 270,362 245,372" fill="#484cef" stroke="#222" stroke-opacity="0.55" stroke-width="2.2" stroke-linejoin="round"/>
<polygon points="249.5,-617.4 249.5,-582.2 229.4,-552.1 209.3,-522.5 184.7,-477.3 149.6,-447.2 124.5,-432.2 122.0,-417.6 134.5,-407.6 149.6,-372.4 154.6,-347.3 147.1,-322.7 119.5,-312.7 105.4,-308.7 85.3,-291.1 67.8,-268.5 55.2,-245.9 35.1,-233.4 17.6,-205.8 -5.0,-183.2 -30.1,-165.6 -55.2,-140.5 -77.8,-115.4 -100.4,-87.8 -113.4,-69.8 -136.0,-41.7 -130.5,3.5 -125.0,25.6 -110.9,17.6 -102.4,-2.0 -102.4,-24.6 -68.8,-30.1 -35.1,-47.2 -12.5,-69.8 10.0,-80.8 30.1,-115.4 50.2,-143.1 72.8,-160.6 90.3,-178.2 107.9,-200.8 110.4,-223.4 123.0,-238.4 155.6,-248.5 168.1,-266.0 185.7,-281.1 203.3,-296.1 223.4,-311.2 220.9,-346.3 210.8,-371.4 208.3,-391.5 215.8,-416.6 215.8,-431.7 229.4,-437.2 259.5,-442.2 284.6,-447.2 300.2,-449.2 300.2,-617.4" fill="#484cef" stroke="#222" stroke-opacity="0.55" stroke-width="2.2" stroke-linejoin="round"/>
<polygon points="20,378 70,380 75,400 60,415 40,414 22,400" fill="#3e26a8" stroke="#222" stroke-opacity="0.55" stroke-width="2.2" stroke-linejoin="round"/>
<polygon points="0,130 10,100 40,70 80,40 120,15 150,0 155,-20 245,-20 240,0 225,30 195,60 160,85 125,105 90,130 55,150 20,148" fill="#12beb9" stroke="#222" stroke-opacity="0.55" stroke-width="2.2" stroke-linejoin="round"/>
<polygon points="150,205 160,180 190,160 230,148 258,150 255,170 235,190 200,205 170,222 152,220" fill="#12beb9" stroke="#222" stroke-opacity="0.55" stroke-width="2.2" stroke-linejoin="round"/>
<polygon points="185,369 191,345 206,315 221,285 239,267 251,261 254,291 251,315 233,339 209,363 194,382" fill="#12beb9" stroke="#222" stroke-opacity="0.55" stroke-width="2.2" stroke-linejoin="round"/>
<polygon points="-103.4,10.5 -75.3,2.0 -47.7,-9.0 -19.6,-26.1 8.5,-38.1 25.6,-34.1 25.6,-14.6 14.1,7.5 -2.5,30.1 -25.1,47.2 -47.7,49.7 -64.2,38.6 -81.3,24.6" fill="#12beb9" stroke="#222" stroke-opacity="0.55" stroke-width="2.2" stroke-linejoin="round"/>
<polygon points="-20,235 0,235 22,261 58,273 82,291 100,309 131,321 155,318 167,327 167,348 155,360 124,369 100,375 64,385 46,379 28,388 25,400 40,412 64,430 82,442 88,454 70,463 40,469 10,475 -20,472" fill="#fff"/>
<polygon points="227,360 236,351 257,342 269,330 281,336 300,336 300,351 269,357 251,366 236,375" fill="#fff"/>
<polygon points="-102.4,-46.2 -90.9,-75.3 -67.8,-105.4 -45.2,-130.5 -20.1,-155.6 5.0,-173.2 28.6,-195.3 45.7,-223.4 67.8,-234.9 79.3,-257.0 95.9,-279.6 119.5,-298.7 125.5,-308.7 149.6,-317.7 164.6,-332.3 159.6,-347.3 152.1,-367.4 159.6,-382.5 169.7,-397.5 174.7,-412.6 182.2,-432.2 194.8,-439.7 199.8,-422.6 204.3,-417.6 197.3,-392.5 199.8,-372.4 209.3,-347.3 211.3,-318.7 191.2,-307.7 174.7,-293.6 157.6,-279.6 146.6,-262.5 112.9,-251.5 98.9,-234.9 95.9,-212.3 79.3,-189.7 62.2,-173.2 40.2,-156.1 20.1,-145.1 17.6,-128.0 0.5,-110.9 -21.6,-94.4 -44.2,-77.3 -66.8,-60.7 -89.3,-49.7" fill="#fff"/>
<polygon points="-125.0,-13.6 -107.9,-22.1 -104.9,14.6 -113.4,23.1 -125.0,17.6" fill="#fff"/>
</g></g>
</g>
<g opacity="0.999"><text class="cl" transform="translate(354.6,58) rotate(15)" text-anchor="middle" dy="3.4">0.5</text>
<text class="cl" transform="translate(359.6,79.3) rotate(-55)" text-anchor="middle" dy="3.4">1</text>
<text class="cl" transform="translate(301.8,96.4) rotate(-45)" text-anchor="middle" dy="3.4">1.5</text>
<text class="cl" transform="translate(317.2,121.1) rotate(30)" text-anchor="middle" dy="3.4">2</text>
<text class="cl" transform="translate(355,137) rotate(15)" text-anchor="middle" dy="3.4">1</text>
<text class="cl" transform="translate(381,140.6) rotate(-35)" text-anchor="middle" dy="3.4">1.5</text>
<text class="cl" transform="translate(318.5,168) rotate(20)" text-anchor="middle" dy="3.4">1.5</text>
<text class="cl" transform="translate(433.9,55) rotate(-25)" text-anchor="middle" dy="3.4">1.5</text>
<text class="cl" transform="translate(450.9,73.5) rotate(-35)" text-anchor="middle" dy="3.4">2</text>
<text class="cl" transform="translate(531.1,127.7) rotate(-25)" text-anchor="middle" dy="3.4">2.5</text>
<text class="cl" transform="translate(575,73) rotate(-15)" text-anchor="middle" dy="3.4">2.5</text>
<text class="cl" transform="translate(618.8,56) rotate(-5)" text-anchor="middle" dy="3.4">2</text>
<text class="cl" transform="translate(602.5,86.8) rotate(-5)" text-anchor="middle" dy="3.4">3</text>
<text class="cl" transform="translate(595.9,152.6) rotate(-20)" text-anchor="middle" dy="3.4">2.5</text>
<text class="cl" transform="translate(433.9,200.8) rotate(60)" text-anchor="middle" dy="3.4">2</text>
<text class="cl" transform="translate(553.9,175.3) rotate(-15)" text-anchor="middle" dy="3.4">2</text>
<text class="cl" transform="translate(564.4,190.5) rotate(50)" text-anchor="middle" dy="3.4">2</text>
<text class="cl" transform="translate(574.2,197.9) rotate(55)" text-anchor="middle" dy="3.4">1.5</text>
<text class="cl" transform="translate(558.4,242.3) rotate(-5)" text-anchor="middle" dy="3.4">2</text>
<text class="cl" transform="translate(621.8,213.8) rotate(65)" text-anchor="middle" dy="3.4">0.5</text>
<text class="cl" transform="translate(621.8,227.7) rotate(-60)" text-anchor="middle" dy="3.4">1</text>
<text class="cl" transform="translate(590,274.5) rotate(-15)" text-anchor="middle" dy="3.4">2.5</text>
<text class="cl" transform="translate(205.2,331.6) rotate(25)" text-anchor="middle" dy="3.4">0.5</text>
<text class="cl" transform="translate(115.3,344.8) rotate(70)" text-anchor="middle" dy="3.4">0.5</text>
<text class="cl" transform="translate(216.4,363) rotate(10)" text-anchor="middle" dy="3.4">1</text>
<text class="cl" transform="translate(346.5,314) rotate(-60)" text-anchor="middle" dy="3.4">1</text>
<text class="cl" transform="translate(331,323.5) rotate(-30)" text-anchor="middle" dy="3.4">1.5</text>
<text class="cl" transform="translate(349.5,319.5) rotate(-60)" text-anchor="middle" dy="3.4">2</text>
<text class="cl" transform="translate(328.4,332.8) rotate(-25)" text-anchor="middle" dy="3.4">2.5</text>
<text class="cl" transform="translate(392,362.6) rotate(70)" text-anchor="middle" dy="3.4">2.5</text>
<text class="cl" transform="translate(313.8,379.5) rotate(25)" text-anchor="middle" dy="3.4">3</text>
<text class="cl" transform="translate(282,366) rotate(-50)" text-anchor="middle" dy="3.4">2</text>
<text class="cl" transform="translate(265.5,371) rotate(-45)" text-anchor="middle" dy="3.4">1.5</text>
<text class="cl" transform="translate(284,388.5) rotate(-80)" text-anchor="middle" dy="3.4">2.5</text>
<text class="cl" transform="translate(188.5,433.7) rotate(45)" text-anchor="middle" dy="3.4">1.5</text>
<text class="cl" transform="translate(218.7,496.3) rotate(85)" text-anchor="middle" dy="3.4">1.5</text>
<text class="cl" transform="translate(308.6,497.8) rotate(-10)" text-anchor="middle" dy="3.4">2</text>
<text class="cl" transform="translate(336.5,493) rotate(70)" text-anchor="middle" dy="3.4">1.5</text>
<text class="cl" transform="translate(338.5,497) rotate(70)" text-anchor="middle" dy="3.4">0.5</text>
<text class="cl" transform="translate(525.6,312.9) rotate(-15)" text-anchor="middle" dy="3.4">2</text>
<text class="cl" transform="translate(528.6,362.6) rotate(-15)" text-anchor="middle" dy="3.4">2</text>
<text class="cl" transform="translate(450.9,367.6) rotate(-50)" text-anchor="middle" dy="3.4">2</text>
<text class="cl" transform="translate(523.5,392.6) rotate(15)" text-anchor="middle" dy="3.4">1.5</text>
<text class="cl" transform="translate(545.5,387) rotate(-75)" text-anchor="middle" dy="3.4">1</text>
<text class="cl" transform="translate(566.3,401.2) rotate(-10)" text-anchor="middle" dy="3.4">2</text>
<text class="cl" transform="translate(595.5,416.2) rotate(-40)" text-anchor="middle" dy="3.4">2</text>
<text class="cl" transform="translate(615.5,431.6) rotate(-20)" text-anchor="middle" dy="3.4">2</text>
<text class="cl" transform="translate(587.9,295.9) rotate(-35)" text-anchor="middle" dy="3.4">1.5</text>
<text class="cl" transform="translate(600.9,309.9) rotate(-60)" text-anchor="middle" dy="3.4">2</text>
<text class="cl" transform="translate(619.8,314.8) rotate(-10)" text-anchor="middle" dy="3.4">2</text>
<text class="cl" transform="translate(625.8,300.9) rotate(60)" text-anchor="middle" dy="3.4">1</text>
<text class="cl" transform="translate(607.9,342.7) rotate(-55)" text-anchor="middle" dy="3.4">1.5</text>
<text class="cl" transform="translate(583,363) rotate(-50)" text-anchor="middle" dy="3.4">1</text>
<text class="cl" transform="translate(513.6,435.8) rotate(60)" text-anchor="middle" dy="3.4">2</text>
<text class="cl" transform="translate(486.7,461.7) rotate(-10)" text-anchor="middle" dy="3.4">2</text>
<text class="cl" transform="translate(514.7,449.5) rotate(-30)" text-anchor="middle" dy="3.4">1.5</text>
<text class="cl" transform="translate(524.5,446.3) rotate(-30)" text-anchor="middle" dy="3.4">1</text>
<text class="cl" transform="translate(469.4,490.2) rotate(-50)" text-anchor="middle" dy="3.4">1</text>
<text class="cl" transform="translate(438,510.5) rotate(-35)" text-anchor="middle" dy="3.4">1.5</text>
<text class="cl" transform="translate(622.4,458.3) rotate(-70)" text-anchor="middle" dy="3.4">2</text>
<text class="cl" transform="translate(597.9,480.6) rotate(-55)" text-anchor="middle" dy="3.4">1.5</text>
<text class="cl" transform="translate(583,490.6) rotate(-45)" text-anchor="middle" dy="3.4">1</text>
<text class="cl" transform="translate(593.9,503.6) rotate(-45)" text-anchor="middle" dy="3.4">1.5</text>
<text class="cl" transform="translate(625.8,500.6) rotate(-60)" text-anchor="middle" dy="3.4">1</text></g><line x1="130.4" y1="48" x2="130.4" y2="513" stroke="#7a7a72" stroke-opacity="0.5" stroke-width="0.8" stroke-dasharray="1.2 4.5"/>
<line x1="229.2" y1="48" x2="229.2" y2="513" stroke="#7a7a72" stroke-opacity="0.5" stroke-width="0.8" stroke-dasharray="1.2 4.5"/>
<line x1="328.0" y1="48" x2="328.0" y2="513" stroke="#7a7a72" stroke-opacity="0.5" stroke-width="0.8" stroke-dasharray="1.2 4.5"/>
<line x1="426.6" y1="48" x2="426.6" y2="513" stroke="#7a7a72" stroke-opacity="0.5" stroke-width="0.8" stroke-dasharray="1.2 4.5"/>
<line x1="525.2" y1="48" x2="525.2" y2="513" stroke="#7a7a72" stroke-opacity="0.5" stroke-width="0.8" stroke-dasharray="1.2 4.5"/>
<line x1="623.3" y1="48" x2="623.3" y2="513" stroke="#7a7a72" stroke-opacity="0.5" stroke-width="0.8" stroke-dasharray="1.2 4.5"/>
<line x1="112" y1="94.4" x2="630" y2="94.4" stroke="#7a7a72" stroke-opacity="0.5" stroke-width="0.8" stroke-dasharray="1.2 5.7"/>
<line x1="112" y1="195.6" x2="630" y2="195.6" stroke="#7a7a72" stroke-opacity="0.5" stroke-width="0.8" stroke-dasharray="1.2 5.7"/>
<line x1="112" y1="296.0" x2="630" y2="296.0" stroke="#7a7a72" stroke-opacity="0.5" stroke-width="0.8" stroke-dasharray="1.2 5.7"/>
<line x1="112" y1="395.2" x2="630" y2="395.2" stroke="#7a7a72" stroke-opacity="0.5" stroke-width="0.8" stroke-dasharray="1.2 5.7"/>
<line x1="112" y1="494.6" x2="630" y2="494.6" stroke="#7a7a72" stroke-opacity="0.5" stroke-width="0.8" stroke-dasharray="1.2 5.7"/>
<path d="M106.3,43.0H635.6V519.2H106.3Z M111.7,48.3V513.3H630.1V48.3Z" fill="#fff" fill-rule="evenodd" stroke="none"/>
<path d="M106.3,43.0V519.2H635.6V43.0" fill="none" stroke="#4d4d4d" stroke-width="0.7"/>
<line x1="106.3" y1="43.0" x2="635.6" y2="43.0" stroke="#cdcdcd" stroke-width="0.9"/>
<rect x="111.7" y="48.3" width="518.4" height="464.99999999999994" fill="none" stroke="#4d4d4d" stroke-width="0.7"/>
<line x1="106.3" y1="43.0" x2="111.7" y2="48.3" stroke="#4d4d4d" stroke-width="0.7"/>
<line x1="635.6" y1="43.0" x2="630.1" y2="48.3" stroke="#4d4d4d" stroke-width="0.7"/>
<line x1="106.3" y1="519.2" x2="111.7" y2="513.3" stroke="#4d4d4d" stroke-width="0.7"/>
<line x1="635.6" y1="519.2" x2="630.1" y2="513.3" stroke="#4d4d4d" stroke-width="0.7"/>
<line x1="118.4" y1="43.0" x2="118.4" y2="48.3" stroke="#4d4d4d" stroke-width="0.7"/>
<line x1="118.4" y1="519.2" x2="118.4" y2="513.3" stroke="#4d4d4d" stroke-width="0.7"/>
<line x1="130.4" y1="43.0" x2="130.4" y2="48.3" stroke="#4d4d4d" stroke-width="0.7"/>
<line x1="130.4" y1="519.2" x2="130.4" y2="513.3" stroke="#4d4d4d" stroke-width="0.7"/>
<line x1="179.7" y1="43.0" x2="179.7" y2="48.3" stroke="#4d4d4d" stroke-width="0.7"/>
<line x1="179.7" y1="519.2" x2="179.7" y2="513.3" stroke="#4d4d4d" stroke-width="0.7"/>
<line x1="229.0" y1="43.0" x2="229.0" y2="48.3" stroke="#4d4d4d" stroke-width="0.7"/>
<line x1="229.0" y1="519.2" x2="229.0" y2="513.3" stroke="#4d4d4d" stroke-width="0.7"/>
<line x1="278.3" y1="43.0" x2="278.3" y2="48.3" stroke="#4d4d4d" stroke-width="0.7"/>
<line x1="278.3" y1="519.2" x2="278.3" y2="513.3" stroke="#4d4d4d" stroke-width="0.7"/>
<line x1="327.6" y1="43.0" x2="327.6" y2="48.3" stroke="#4d4d4d" stroke-width="0.7"/>
<line x1="327.6" y1="519.2" x2="327.6" y2="513.3" stroke="#4d4d4d" stroke-width="0.7"/>
<line x1="376.9" y1="43.0" x2="376.9" y2="48.3" stroke="#4d4d4d" stroke-width="0.7"/>
<line x1="376.9" y1="519.2" x2="376.9" y2="513.3" stroke="#4d4d4d" stroke-width="0.7"/>
<line x1="426.1" y1="43.0" x2="426.1" y2="48.3" stroke="#4d4d4d" stroke-width="0.7"/>
<line x1="426.1" y1="519.2" x2="426.1" y2="513.3" stroke="#4d4d4d" stroke-width="0.7"/>
<line x1="475.4" y1="43.0" x2="475.4" y2="48.3" stroke="#4d4d4d" stroke-width="0.7"/>
<line x1="475.4" y1="519.2" x2="475.4" y2="513.3" stroke="#4d4d4d" stroke-width="0.7"/>
<line x1="524.7" y1="43.0" x2="524.7" y2="48.3" stroke="#4d4d4d" stroke-width="0.7"/>
<line x1="524.7" y1="519.2" x2="524.7" y2="513.3" stroke="#4d4d4d" stroke-width="0.7"/>
<line x1="574.0" y1="43.0" x2="574.0" y2="48.3" stroke="#4d4d4d" stroke-width="0.7"/>
<line x1="574.0" y1="519.2" x2="574.0" y2="513.3" stroke="#4d4d4d" stroke-width="0.7"/>
<line x1="623.3" y1="43.0" x2="623.3" y2="48.3" stroke="#4d4d4d" stroke-width="0.7"/>
<line x1="623.3" y1="519.2" x2="623.3" y2="513.3" stroke="#4d4d4d" stroke-width="0.7"/>
<line x1="111.7" y1="516.25" x2="118.4" y2="516.25" stroke="#333" stroke-width="1.3"/>
<line x1="118.4" y1="45.65" x2="130.4" y2="45.65" stroke="#333" stroke-width="1.3"/>
<line x1="130.4" y1="516.25" x2="179.7" y2="516.25" stroke="#333" stroke-width="1.3"/>
<line x1="179.7" y1="45.65" x2="229.0" y2="45.65" stroke="#333" stroke-width="1.3"/>
<line x1="229.0" y1="516.25" x2="278.3" y2="516.25" stroke="#333" stroke-width="1.3"/>
<line x1="278.3" y1="45.65" x2="327.6" y2="45.65" stroke="#333" stroke-width="1.3"/>
<line x1="327.6" y1="516.25" x2="376.9" y2="516.25" stroke="#333" stroke-width="1.3"/>
<line x1="376.9" y1="45.65" x2="426.1" y2="45.65" stroke="#333" stroke-width="1.3"/>
<line x1="426.1" y1="516.25" x2="475.4" y2="516.25" stroke="#333" stroke-width="1.3"/>
<line x1="475.4" y1="45.65" x2="524.7" y2="45.65" stroke="#333" stroke-width="1.3"/>
<line x1="524.7" y1="516.25" x2="574.0" y2="516.25" stroke="#333" stroke-width="1.3"/>
<line x1="574.0" y1="45.65" x2="623.3" y2="45.65" stroke="#333" stroke-width="1.3"/>
<line x1="623.3" y1="516.25" x2="630.1" y2="516.25" stroke="#333" stroke-width="1.3"/>
<line x1="106.3" y1="68.2" x2="111.7" y2="68.2" stroke="#4d4d4d" stroke-width="0.7"/>
<line x1="635.6" y1="68.2" x2="630.1" y2="68.2" stroke="#4d4d4d" stroke-width="0.7"/>
<line x1="106.3" y1="94.4" x2="111.7" y2="94.4" stroke="#4d4d4d" stroke-width="0.7"/>
<line x1="635.6" y1="94.4" x2="630.1" y2="94.4" stroke="#4d4d4d" stroke-width="0.7"/>
<line x1="106.3" y1="145.4" x2="111.7" y2="145.4" stroke="#4d4d4d" stroke-width="0.7"/>
<line x1="635.6" y1="145.4" x2="630.1" y2="145.4" stroke="#4d4d4d" stroke-width="0.7"/>
<line x1="106.3" y1="195.6" x2="111.7" y2="195.6" stroke="#4d4d4d" stroke-width="0.7"/>
<line x1="635.6" y1="195.6" x2="630.1" y2="195.6" stroke="#4d4d4d" stroke-width="0.7"/>
<line x1="106.3" y1="246.0" x2="111.7" y2="246.0" stroke="#4d4d4d" stroke-width="0.7"/>
<line x1="635.6" y1="246.0" x2="630.1" y2="246.0" stroke="#4d4d4d" stroke-width="0.7"/>
<line x1="106.3" y1="296.0" x2="111.7" y2="296.0" stroke="#4d4d4d" stroke-width="0.7"/>
<line x1="635.6" y1="296.0" x2="630.1" y2="296.0" stroke="#4d4d4d" stroke-width="0.7"/>
<line x1="106.3" y1="346.2" x2="111.7" y2="346.2" stroke="#4d4d4d" stroke-width="0.7"/>
<line x1="635.6" y1="346.2" x2="630.1" y2="346.2" stroke="#4d4d4d" stroke-width="0.7"/>
<line x1="106.3" y1="395.2" x2="111.7" y2="395.2" stroke="#4d4d4d" stroke-width="0.7"/>
<line x1="635.6" y1="395.2" x2="630.1" y2="395.2" stroke="#4d4d4d" stroke-width="0.7"/>
<line x1="106.3" y1="445.6" x2="111.7" y2="445.6" stroke="#4d4d4d" stroke-width="0.7"/>
<line x1="635.6" y1="445.6" x2="630.1" y2="445.6" stroke="#4d4d4d" stroke-width="0.7"/>
<line x1="106.3" y1="494.6" x2="111.7" y2="494.6" stroke="#4d4d4d" stroke-width="0.7"/>
<line x1="635.6" y1="494.6" x2="630.1" y2="494.6" stroke="#4d4d4d" stroke-width="0.7"/>
<line x1="106.3" y1="506.6" x2="111.7" y2="506.6" stroke="#4d4d4d" stroke-width="0.7"/>
<line x1="635.6" y1="506.6" x2="630.1" y2="506.6" stroke="#4d4d4d" stroke-width="0.7"/>
<line x1="632.85" y1="48.3" x2="632.85" y2="68.2" stroke="#777" stroke-width="1.5"/>
<line x1="109.0" y1="68.2" x2="109.0" y2="94.4" stroke="#333" stroke-width="1.5"/>
<line x1="632.85" y1="94.4" x2="632.85" y2="145.4" stroke="#777" stroke-width="1.5"/>
<line x1="109.0" y1="145.4" x2="109.0" y2="195.6" stroke="#333" stroke-width="1.5"/>
<line x1="632.85" y1="195.6" x2="632.85" y2="246.0" stroke="#777" stroke-width="1.5"/>
<line x1="109.0" y1="246.0" x2="109.0" y2="296.0" stroke="#333" stroke-width="1.5"/>
<line x1="632.85" y1="296.0" x2="632.85" y2="346.2" stroke="#777" stroke-width="1.5"/>
<line x1="109.0" y1="346.2" x2="109.0" y2="395.2" stroke="#333" stroke-width="1.5"/>
<line x1="632.85" y1="395.2" x2="632.85" y2="445.6" stroke="#777" stroke-width="1.5"/>
<line x1="109.0" y1="445.6" x2="109.0" y2="494.6" stroke="#333" stroke-width="1.5"/>
<line x1="632.85" y1="494.6" x2="632.85" y2="506.6" stroke="#777" stroke-width="1.5"/>
<line x1="109.0" y1="506.6" x2="109.0" y2="513.3" stroke="#333" stroke-width="1.5"/>
<line x1="130.4" y1="519.2" x2="130.4" y2="524.4000000000001" stroke="#c4c4c4" stroke-width="0.7"/>
<line x1="130.4" y1="43.0" x2="130.4" y2="37.8" stroke="#c4c4c4" stroke-width="0.7"/>
<line x1="229.2" y1="519.2" x2="229.2" y2="524.4000000000001" stroke="#c4c4c4" stroke-width="0.7"/>
<line x1="229.2" y1="43.0" x2="229.2" y2="37.8" stroke="#c4c4c4" stroke-width="0.7"/>
<line x1="328.0" y1="519.2" x2="328.0" y2="524.4000000000001" stroke="#c4c4c4" stroke-width="0.7"/>
<line x1="328.0" y1="43.0" x2="328.0" y2="37.8" stroke="#c4c4c4" stroke-width="0.7"/>
<line x1="426.6" y1="519.2" x2="426.6" y2="524.4000000000001" stroke="#c4c4c4" stroke-width="0.7"/>
<line x1="426.6" y1="43.0" x2="426.6" y2="37.8" stroke="#c4c4c4" stroke-width="0.7"/>
<line x1="525.2" y1="519.2" x2="525.2" y2="524.4000000000001" stroke="#c4c4c4" stroke-width="0.7"/>
<line x1="525.2" y1="43.0" x2="525.2" y2="37.8" stroke="#c4c4c4" stroke-width="0.7"/>
<line x1="623.3" y1="519.2" x2="623.3" y2="524.4000000000001" stroke="#c4c4c4" stroke-width="0.7"/>
<line x1="623.3" y1="43.0" x2="623.3" y2="37.8" stroke="#c4c4c4" stroke-width="0.7"/>
<line x1="106.3" y1="94.4" x2="101.1" y2="94.4" stroke="#c4c4c4" stroke-width="0.7"/>
<line x1="635.6" y1="94.4" x2="640.8000000000001" y2="94.4" stroke="#c4c4c4" stroke-width="0.7"/>
<line x1="106.3" y1="195.6" x2="101.1" y2="195.6" stroke="#c4c4c4" stroke-width="0.7"/>
<line x1="635.6" y1="195.6" x2="640.8000000000001" y2="195.6" stroke="#c4c4c4" stroke-width="0.7"/>
<line x1="106.3" y1="296.0" x2="101.1" y2="296.0" stroke="#c4c4c4" stroke-width="0.7"/>
<line x1="635.6" y1="296.0" x2="640.8000000000001" y2="296.0" stroke="#c4c4c4" stroke-width="0.7"/>
<line x1="106.3" y1="395.2" x2="101.1" y2="395.2" stroke="#c4c4c4" stroke-width="0.7"/>
<line x1="635.6" y1="395.2" x2="640.8000000000001" y2="395.2" stroke="#c4c4c4" stroke-width="0.7"/>
<line x1="106.3" y1="494.6" x2="101.1" y2="494.6" stroke="#c4c4c4" stroke-width="0.7"/>
<line x1="635.6" y1="494.6" x2="640.8000000000001" y2="494.6" stroke="#c4c4c4" stroke-width="0.7"/>
<defs><linearGradient id="cbg" x1="0" y1="0" x2="0" y2="1"><stop offset="0.0000" stop-color="#f9fb15"/><stop offset="0.0159" stop-color="#f7f51b"/><stop offset="0.0317" stop-color="#f6ef20"/><stop offset="0.0476" stop-color="#f5e924"/><stop offset="0.0635" stop-color="#f5e327"/><stop offset="0.0794" stop-color="#f7dc2a"/><stop offset="0.0952" stop-color="#fad62d"/><stop offset="0.1111" stop-color="#fccf30"/><stop offset="0.1270" stop-color="#fec934"/><stop offset="0.1429" stop-color="#fec338"/><stop offset="0.1587" stop-color="#febe3c"/><stop offset="0.1746" stop-color="#f8ba3d"/><stop offset="0.1905" stop-color="#f0ba36"/><stop offset="0.2063" stop-color="#e6bb2d"/><stop offset="0.2222" stop-color="#dcbd29"/><stop offset="0.2381" stop-color="#d1bf27"/><stop offset="0.2540" stop-color="#c5c22a"/><stop offset="0.2698" stop-color="#b9c431"/><stop offset="0.2857" stop-color="#abc739"/><stop offset="0.3016" stop-color="#9dc943"/><stop offset="0.3175" stop-color="#8fcb4e"/><stop offset="0.3333" stop-color="#81cc59"/><stop offset="0.3492" stop-color="#72cd64"/><stop offset="0.3651" stop-color="#64cd6f"/><stop offset="0.3810" stop-color="#57cc7a"/><stop offset="0.3968" stop-color="#4acb84"/><stop offset="0.4127" stop-color="#3fca8e"/><stop offset="0.4286" stop-color="#37c897"/><stop offset="0.4444" stop-color="#31c69f"/><stop offset="0.4603" stop-color="#2cc4a7"/><stop offset="0.4762" stop-color="#24c1ae"/><stop offset="0.4921" stop-color="#19bfb6"/><stop offset="0.5079" stop-color="#0bbdbd"/><stop offset="0.5238" stop-color="#02bac3"/><stop offset="0.5397" stop-color="#01b8ca"/><stop offset="0.5556" stop-color="#08b5d0"/><stop offset="0.5714" stop-color="#12b1d6"/><stop offset="0.5873" stop-color="#18addb"/><stop offset="0.6032" stop-color="#1ca9df"/><stop offset="0.6190" stop-color="#20a5e3"/><stop offset="0.6349" stop-color="#23a0e5"/><stop offset="0.6508" stop-color="#259be8"/><stop offset="0.6667" stop-color="#2797eb"/><stop offset="0.6825" stop-color="#2b91ef"/><stop offset="0.6984" stop-color="#2d8cf3"/><stop offset="0.7143" stop-color="#2e87f7"/><stop offset="0.7302" stop-color="#2f81fa"/><stop offset="0.7460" stop-color="#327cfc"/><stop offset="0.7619" stop-color="#3875fe"/><stop offset="0.7778" stop-color="#3e6fff"/><stop offset="0.7937" stop-color="#4269fe"/><stop offset="0.8095" stop-color="#4563fd"/><stop offset="0.8254" stop-color="#465efb"/><stop offset="0.8413" stop-color="#4758f8"/><stop offset="0.8571" stop-color="#4852f4"/><stop offset="0.8730" stop-color="#484df0"/><stop offset="0.8889" stop-color="#4747eb"/><stop offset="0.9048" stop-color="#4741e5"/><stop offset="0.9206" stop-color="#463cde"/><stop offset="0.9365" stop-color="#4537d5"/><stop offset="0.9524" stop-color="#4332cb"/><stop offset="0.9683" stop-color="#422ec0"/><stop offset="0.9841" stop-color="#402ab4"/><stop offset="1.0000" stop-color="#3e26a8"/></linearGradient></defs>
<rect x="647.2" y="43.0" width="22.59999999999991" height="476.20000000000005" fill="url(#cbg)" stroke="#333" stroke-width="0.8"/>
<line x1="664.5999999999999" y1="459.7" x2="669.8" y2="459.7" stroke="#262626" stroke-width="0.8"/>
<line x1="664.5999999999999" y1="400.2" x2="669.8" y2="400.2" stroke="#262626" stroke-width="0.8"/>
<line x1="664.5999999999999" y1="340.6" x2="669.8" y2="340.6" stroke="#262626" stroke-width="0.8"/>
<line x1="664.5999999999999" y1="281.1" x2="669.8" y2="281.1" stroke="#262626" stroke-width="0.8"/>
<line x1="664.5999999999999" y1="221.6" x2="669.8" y2="221.6" stroke="#262626" stroke-width="0.8"/>
<line x1="664.5999999999999" y1="162.1" x2="669.8" y2="162.1" stroke="#262626" stroke-width="0.8"/>
<line x1="664.5999999999999" y1="102.5" x2="669.8" y2="102.5" stroke="#262626" stroke-width="0.8"/>
<g opacity="0.999"><text x="370" y="35" text-anchor="middle" font-size="15px" font-weight="bold" fill="#000" textLength="295" lengthAdjust="spacing">Maximum significant wave height [m]</text>
<text class="tk" x="130.70000000000002" y="536" text-anchor="middle" textLength="31.6" lengthAdjust="spacing">100°E</text>
<text class="tk" x="229.5" y="536" text-anchor="middle" textLength="31.6" lengthAdjust="spacing">104°E</text>
<text class="tk" x="328.3" y="536" text-anchor="middle" textLength="31.6" lengthAdjust="spacing">108°E</text>
<text class="tk" x="426.90000000000003" y="536" text-anchor="middle" textLength="31.6" lengthAdjust="spacing">112°E</text>
<text class="tk" x="525.5" y="536" text-anchor="middle" textLength="31.6" lengthAdjust="spacing">116°E</text>
<text class="tk" x="623.5999999999999" y="536" text-anchor="middle" textLength="31.6" lengthAdjust="spacing">120°E</text>
<text class="tk" x="96.5" y="99.0" text-anchor="end" textLength="27" lengthAdjust="spacing">20°N</text>
<text class="tk" x="96.5" y="200.2" text-anchor="end" textLength="27" lengthAdjust="spacing">16°N</text>
<text class="tk" x="96.5" y="300.6" text-anchor="end" textLength="27" lengthAdjust="spacing">12°N</text>
<text class="tk" x="96.5" y="399.8" text-anchor="end" textLength="20" lengthAdjust="spacing">8°N</text>
<text class="tk" x="96.5" y="499.2" text-anchor="end" textLength="20" lengthAdjust="spacing">4°N</text>
<text class="cb" x="675.3" y="523.1">0</text>
<text class="cb" x="675.3" y="463.6">0.5</text>
<text class="cb" x="675.3" y="404.1">1</text>
<text class="cb" x="675.3" y="344.5">1.5</text>
<text class="cb" x="675.3" y="285.0">2</text>
<text class="cb" x="675.3" y="225.5">2.5</text>
<text class="cb" x="675.3" y="166.0">3</text>
<text class="cb" x="675.3" y="106.4">3.5</text>
<text class="cb" x="675.3" y="46.9">4</text>
<text class="pl" x="391.5" y="186.5" textLength="78" lengthAdjust="spacing">QD. Hoang Sa</text>
<text class="pl" x="413" y="392.5" textLength="80" lengthAdjust="spacing">QD. Truong Sa</text></g>
</svg>
</body></html>
